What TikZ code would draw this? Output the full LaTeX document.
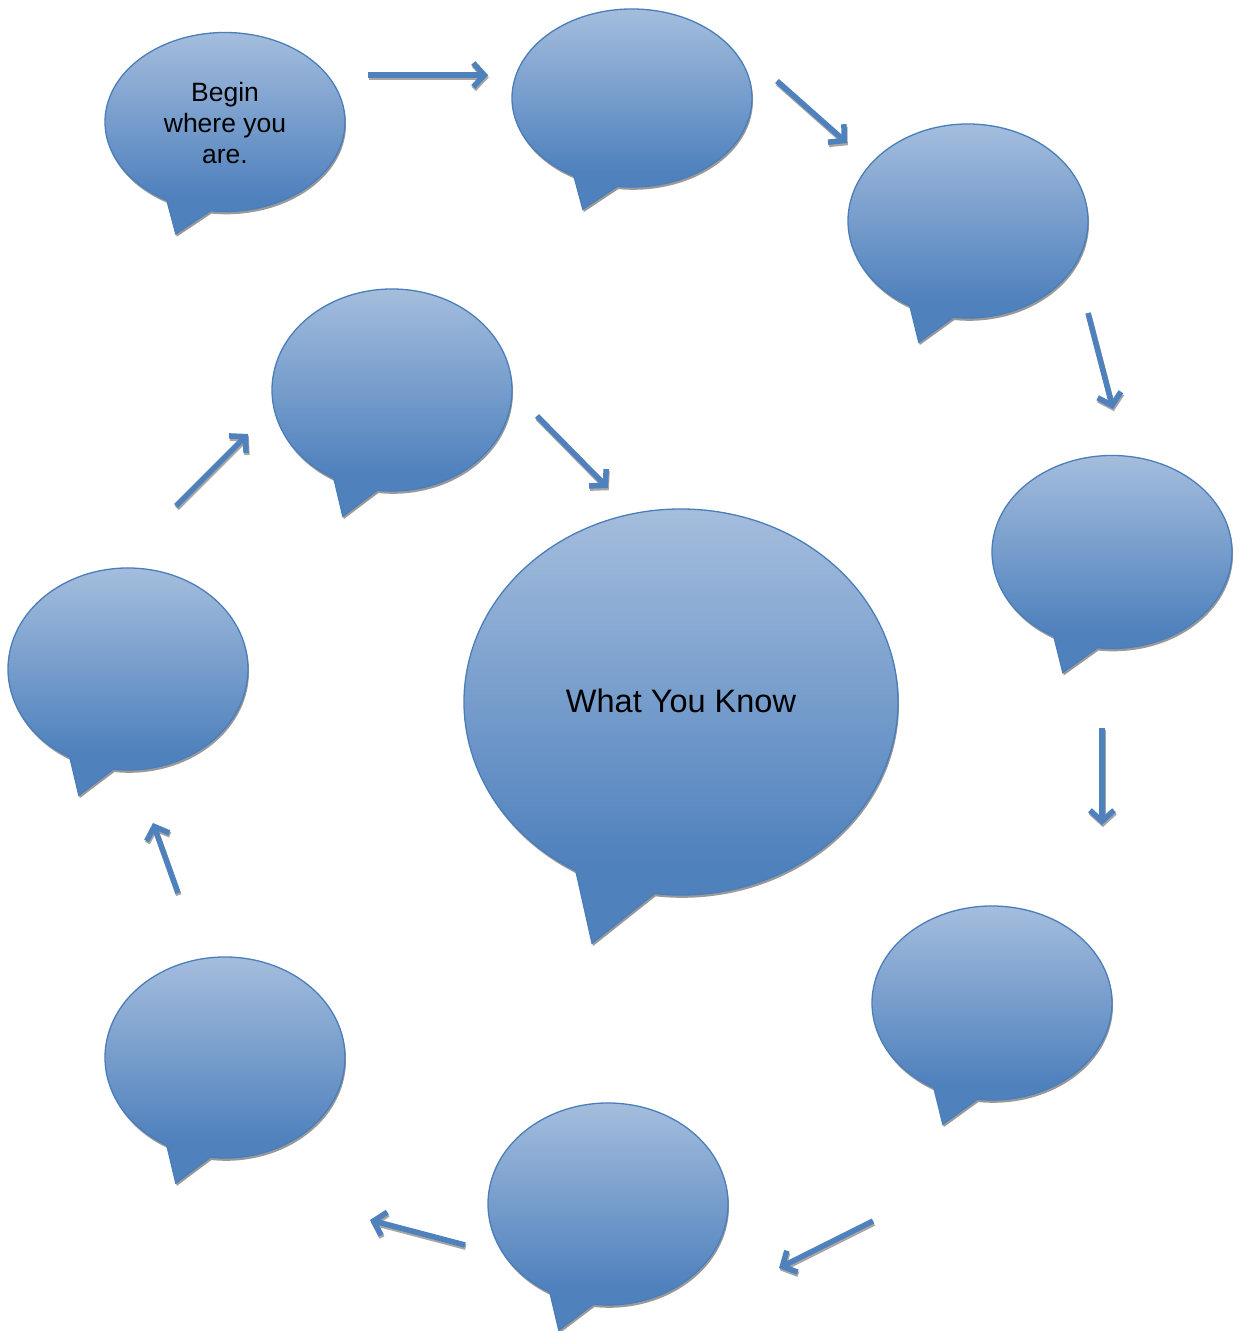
\documentclass[tikz,border=0pt]{standalone}
\usepackage{fontspec}
\setmainfont{Liberation Sans}
\usetikzlibrary{arrows.meta}
\definecolor{blight}{RGB}{167,191,222}
\definecolor{bdark}{RGB}{79,129,189}
\definecolor{bline}{RGB}{74,126,187}
\definecolor{arrowc}{RGB}{79,129,189}
\pgfdeclareverticalshading{bubshade}{100bp}{color(0bp)=(bdark); color(34bp)=(bdark); color(75bp)=(blight); color(100bp)=(blight)}
\tikzset{
  bubblebody/.style={shading=bubshade, draw=bline, line width=1.3pt},
  bubbleshadow/.style={fill=black!40},
  flowarrow/.style={draw=arrowc, line width=5.5pt, -{Straight Barb[length=11pt,width=24pt]}},
  flowshadow/.style={draw=black!35, line width=5.5pt, -{Straight Barb[length=11pt,width=24pt]}},
  bubbletext/.style={inner sep=0pt, align=center, text=black}
}
\newcommand{\mybubble}[5]{%
  \begin{scope}[shift={(#2,#3)}]
    \coordinate (#1) at (0,0);
    \fill[bubbleshadow, shift={(1,-2.8)}] (263:#4 and #5) arc[start angle=263,end angle=601,x radius=#4,y radius=#5] -- ({-0.41*#4},{-1.25*#5}) -- cycle;
    \shadedraw[bubblebody] (263:#4 and #5) arc[start angle=263,end angle=601,x radius=#4,y radius=#5] -- ({-0.41*#4},{-1.25*#5}) -- cycle;
  \end{scope}}
\newcommand{\myarrow}[2]{%
  \draw[flowshadow] ([shift={(0.8,-2.2)}]#1) -- ([shift={(0.8,-2.2)}]#2);
  \draw[flowarrow] (#1) -- (#2);}
\begin{document}
\begin{tikzpicture}[x=1pt,y=1pt]
\fill[white] (0,0) rectangle (1238,1331);
\useasboundingbox (0,0) rectangle (1238,1331);

% bubbles
\mybubble{b1}{225}{1209}{120}{89.5}
\mybubble{b2}{632}{1233}{120}{89}
\mybubble{b3}{968}{1110}{120}{97}
\mybubble{b4}{1112}{779}{120}{96.5}
\mybubble{b5}{992}{328}{120}{97}
\mybubble{b6}{608}{127}{120}{101}
\mybubble{b7}{225}{273.5}{120}{100.5}
\mybubble{b8}{128}{662}{120}{101}
\mybubble{b9}{392}{941}{120}{101}
\mybubble{bc}{681}{629}{217}{193}

% texts
\node[bubbletext, font=\fontsize{26.5}{31}\selectfont] (t1) at (225,1208) {Begin\\where you\\are.};
\node[bubbletext, font=\fontsize{32.5}{38}\selectfont] (tc) at (681,630) {What You Know};

% arrow end points
\coordinate (a1s) at (368,1256); \coordinate (a1e) at (488,1256);
\coordinate (a2s) at (777,1250); \coordinate (a2e) at (847,1188);
\coordinate (a3s) at (1088,1018); \coordinate (a3e) at (1113,922);
\coordinate (a4s) at (1102,603); \coordinate (a4e) at (1102,506);
\coordinate (a5s) at (873,110); \coordinate (a5e) at (779,63);
\coordinate (a6s) at (465,86); \coordinate (a6e) at (370,111);
\coordinate (a7s) at (178,438); \coordinate (a7e) at (153,508);
\coordinate (a8s) at (176,825); \coordinate (a8e) at (248,897);
\coordinate (a9s) at (537,915); \coordinate (a9e) at (608,843);

\myarrow{a1s}{a1e}
\myarrow{a2s}{a2e}
\myarrow{a3s}{a3e}
\myarrow{a4s}{a4e}
\myarrow{a5s}{a5e}
\myarrow{a6s}{a6e}
\myarrow{a7s}{a7e}
\myarrow{a8s}{a8e}
\myarrow{a9s}{a9e}
\end{tikzpicture}
\end{document}
